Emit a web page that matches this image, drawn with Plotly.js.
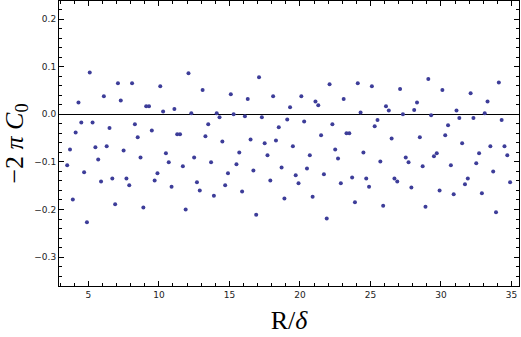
<!DOCTYPE html>
<html>
<head>
<meta charset="utf-8">
<script src="https://cdn.plot.ly/plotly-3.0.1.min.js"></script>
<style>
  html, body { margin: 0; padding: 0; background: #fff; }
  #chart { width: 521px; height: 337px; }
</style>
</head>
<body>
<div id="chart"></div>
<script>
// R/delta values, one point every 0.2
var rOverDelta = [
  3.5, 3.7, 3.9, 4.1, 4.3, 4.5, 4.7, 4.9, 5.1, 5.3,
  5.5, 5.7, 5.9, 6.1, 6.3, 6.5, 6.7, 6.9, 7.1, 7.3,
  7.5, 7.7, 7.9, 8.1, 8.3, 8.5, 8.7, 8.9, 9.1, 9.3,
  9.5, 9.7, 9.9, 10.1, 10.3, 10.5, 10.7, 10.9, 11.1, 11.3,
  11.5, 11.7, 11.9, 12.1, 12.3, 12.5, 12.7, 12.9, 13.1, 13.3,
  13.5, 13.7, 13.9, 14.1, 14.3, 14.5, 14.7, 14.9, 15.1, 15.3,
  15.5, 15.7, 15.9, 16.1, 16.3, 16.5, 16.7, 16.9, 17.1, 17.3,
  17.5, 17.7, 17.9, 18.1, 18.3, 18.5, 18.7, 18.9, 19.1, 19.3,
  19.5, 19.7, 19.9, 20.1, 20.3, 20.5, 20.7, 20.9, 21.1, 21.3,
  21.5, 21.7, 21.9, 22.1, 22.3, 22.5, 22.7, 22.9, 23.1, 23.3,
  23.5, 23.7, 23.9, 24.1, 24.3, 24.5, 24.7, 24.9, 25.1, 25.3,
  25.5, 25.7, 25.9, 26.1, 26.3, 26.5, 26.7, 26.9, 27.1, 27.3,
  27.5, 27.7, 27.9, 28.1, 28.3, 28.5, 28.7, 28.9, 29.1, 29.3,
  29.5, 29.7, 29.9, 30.1, 30.3, 30.5, 30.7, 30.9, 31.1, 31.3,
  31.5, 31.7, 31.9, 32.1, 32.3, 32.5, 32.7, 32.9, 33.1, 33.3,
  33.5, 33.7, 33.9, 34.1, 34.3, 34.5, 34.7, 34.9
];

// -2 pi C0
var minus2piC0 = [
  -0.107, -0.074, -0.179, -0.038, 0.025, -0.017, -0.122, -0.227, 0.088, -0.017,
  -0.069, -0.095, -0.141, 0.038, -0.067, -0.029, -0.135, -0.189, 0.065, 0.029,
  -0.076, -0.135, -0.149, 0.065, -0.021, -0.048, -0.091, -0.196, 0.017, 0.017,
  -0.034, -0.139, -0.124, 0.059, 0.006, -0.082, -0.101, -0.152, 0.011, -0.042,
  -0.042, -0.109, -0.200, 0.086, 0.002, -0.091, -0.143, -0.160, 0.051, -0.046,
  -0.021, -0.101, -0.171, 0.002, -0.006, -0.057, -0.149, -0.124, 0.042, 0.000,
  -0.105, -0.080, -0.162, -0.004, 0.032, -0.053, -0.118, -0.211, 0.078, -0.006,
  -0.061, -0.086, -0.139, 0.038, -0.055, -0.027, -0.112, -0.177, -0.011, 0.015,
  -0.067, -0.128, -0.145, 0.038, -0.015, -0.114, -0.086, -0.173, 0.027, 0.019,
  -0.044, -0.126, -0.219, 0.063, -0.021, -0.074, -0.093, -0.145, 0.032, -0.040,
  -0.040, -0.133, -0.185, 0.065, 0.004, -0.080, -0.135, -0.152, 0.059, -0.025,
  -0.012, -0.099, -0.192, 0.017, 0.008, -0.051, -0.135, -0.141, 0.053, 0.000,
  -0.091, -0.101, -0.154, 0.009, 0.025, -0.048, -0.109, -0.194, 0.074, -0.002,
  -0.088, -0.082, -0.160, 0.051, -0.044, -0.023, -0.107, -0.168, 0.008, -0.008,
  -0.061, -0.147, -0.135, 0.044, -0.008, -0.103, -0.082, -0.166, 0.002, 0.027,
  -0.067, -0.120, -0.206, 0.067, -0.012, -0.067, -0.086, -0.143
];

var xTicks = [5, 10, 15, 20, 25, 30, 35];
var yTicks = [-0.3, -0.2, -0.1, 0.0, 0.1, 0.2];

var tickFont = { family: 'DejaVu Sans', size: 9, color: '#222' };
var titleFont = { family: 'Liberation Serif', size: 26, color: '#000' };

var data = [{
  x: rOverDelta,
  y: minus2piC0,
  type: 'scatter',
  mode: 'markers',
  marker: { color: 'rgb(61,61,153)', size: 4 },
  hoverinfo: 'x+y'
}];

var layout = {
  width: 521,
  height: 337,
  margin: { l: 59, r: 2, t: 1, b: 51 },
  paper_bgcolor: '#fff',
  plot_bgcolor: '#fff',
  showlegend: false,
  xaxis: {
    range: [2.92, 35.53],
    tickvals: xTicks,
    ticks: 'inside',
    ticklen: 5,
    tickcolor: '#000',
    showline: true,
    linecolor: '#000',
    linewidth: 1,
    mirror: 'ticks',
    showgrid: false,
    zeroline: false,
    tickfont: tickFont,
    minor: { dtick: 1, tick0: 0, ticks: 'inside', ticklen: 3, tickcolor: '#000', showgrid: false },
    title: { text: 'R/<i>δ</i>', font: titleFont, standoff: 12 }
  },
  yaxis: {
    range: [-0.3607, 0.238],
    tickvals: yTicks,
    tickformat: '.1f',
    ticks: 'inside',
    ticklen: 5,
    tickcolor: '#000',
    showline: true,
    linecolor: '#000',
    linewidth: 1,
    mirror: 'ticks',
    showgrid: false,
    zeroline: true,
    zerolinecolor: '#000',
    zerolinewidth: 1.3,
    tickfont: tickFont,
    minor: { dtick: 0.02, tick0: 0, ticks: 'inside', ticklen: 3, tickcolor: '#000', showgrid: false },
    title: { text: '−2 <i>π C</i><sub>0</sub>', font: titleFont, standoff: 7 }
  }
};

Plotly.newPlot('chart', data, layout, { staticPlot: true });
</script>
</body>
</html>
